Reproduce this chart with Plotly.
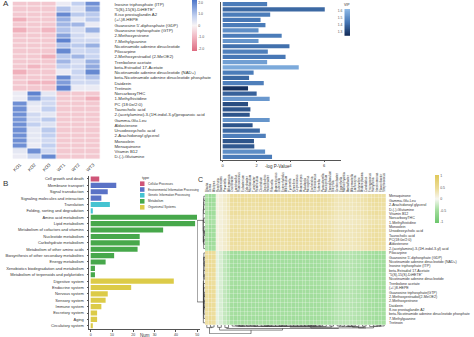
import numpy as np
import plotly.graph_objects as go

W, H = 474, 337
def fx(p): return p / W
def fy(p): return 1 - p / H

FONT = "Arial, Liberation Sans, sans-serif"
TXT = "#333333"

# ---------------- Panel A data ----------------
samples = ["KO1", "KO2", "KO3", "WT1", "WT2", "WT3"]
metabolites_A = [
    "Inosine triphosphate (ITP)", "\"5(S),15(S)-DiHETE\"", "8-iso prostaglandin A2", "(+/-)8-HEPE",
    "Guanosine 5'-diphosphate (GDP)", "Guanosine triphosphate (GTP)", "2-Methoxyestrone",
    "7-Methylguanine", "Nicotinamide adenine dinucleotide", "Pilocarpine",
    "2-Methoxyestradiol (2-MeOE2)", "Trenbolone acetate", "beta-Estradiol 17-Acetate",
    "Nicotinamide adenine dinucleotide (NAD+)", "beta-Nicotinamide adenine dinucleotide phosphate",
    "Daidzein", "Tretinoin", "NorcarboxyTHC", "1-Methylhistidine", "PC (18:0e/2:0)",
    "Taurocholic acid", "2-(acetylamino)-3-(1H-indol-3-yl)propanoic acid", "Gamma-Glu-Leu",
    "Aldosterone", "Ursodeoxycholic acid", "2-Arachidonoyl glycerol", "Monoolein",
    "Menaquinone", "Vitamin B12", "D-(-)-Glutamine",
]
zscore_A = [
    [-0.7, -0.7, -0.7, 0.2, 0.8, 1.8],
    [-0.7, -0.7, -0.7, 1.0, 0.4, 1.5],
    [-0.7, -0.7, -0.7, 1.9, 0.9, 0.9],
    [-1.1, -0.7, -0.7, 1.3, 0.3, 0.9],
    [-0.7, -0.7, -0.7, 1.2, 1.2, 0.2],
    [-1.1, -0.7, -1.0, 1.0, 0.5, 1.3],
    [-0.7, -0.7, -0.7, 1.5, 0.6, 0.3],
    [-0.7, -0.7, -0.7, 2.0, 0.6, 0.6],
    [-0.7, -0.7, -0.7, 1.0, 0.9, 1.3],
    [-0.7, -0.7, -0.7, 1.9, 0.6, 0.7],
    [-0.7, -0.7, -1.1, 0.9, 1.2, 0.7],
    [-0.7, -0.7, -0.7, 1.2, 0.5, 1.3],
    [-0.7, -1.0, -0.7, 0.8, 0.6, 1.4],
    [-1.1, -0.7, -0.7, 0.2, 0.7, 1.9],
    [-0.7, -0.7, -0.7, 1.9, 0.6, 1.0],
    [-0.7, -1.0, -1.0, 1.6, 0.6, 0.6],
    [-0.7, -0.7, -0.7, 2.0, 0.2, 0.2],
    [0.2, 2.0, 0.3, -0.7, -0.7, -0.7],
    [0.2, 1.6, 0.7, -0.7, -0.7, -1.1],
    [1.8, 0.3, 0.6, -0.7, -0.7, -0.7],
    [1.8, 0.2, 0.8, -0.7, -0.7, -0.7],
    [1.8, 0.6, 0.3, -0.7, -0.7, -0.7],
    [1.7, 0.5, 0.9, -0.7, -0.7, -0.7],
    [1.8, 0.8, 0.4, -0.7, -0.7, -0.7],
    [1.8, 0.3, 0.9, -0.7, -0.7, -0.7],
    [1.8, 0.3, 0.8, -0.7, -0.7, -0.7],
    [1.8, 0.3, 0.6, -0.7, -0.7, -0.7],
    [1.8, 0.2, 0.8, -0.7, -0.7, -0.7],
    [0.3, 1.8, 0.6, -0.7, -0.7, -0.7],
    [0.2, 0.7, 1.9, -0.7, -0.7, -0.7],
]
neglogp = [2.63, 6.04, 2.81, 2.24, 2.53, 2.12, 3.49, 2.12, 3.95, 2.67,
           3.72, 2.63, 4.50, 1.83, 1.56, 2.43, 1.50, 2.01, 2.78, 1.50,
           1.64, 1.60, 2.78, 1.77, 2.20, 2.55, 1.85, 1.87, 2.51, 2.92]
vip = [1.45, 1.40, 1.45, 1.44, 1.45, 1.50, 1.45, 1.52, 1.42, 1.46,
       1.44, 1.55, 1.58, 1.45, 1.40, 1.46, 1.26, 1.38, 1.53, 1.33,
       1.35, 1.35, 1.52, 1.35, 1.40, 1.46, 1.35, 1.36, 1.50, 1.45]
vip_ticks = [1.3, 1.4, 1.5, 1.6]

# ---------------- Panel B data ----------------
pathways = [
    "Cell growth and death", "Membrane transport", "Signal transduction",
    "Signaling molecules and interaction", "Translation", "Folding, sorting and degradation",
    "Amino acid metabolism", "Lipid metabolism", "Metabolism of cofactors and vitamins",
    "Nucleotide metabolism", "Carbohydrate metabolism", "Metabolism of other amino acids",
    "Biosynthesis of other secondary metabolites", "Energy metabolism",
    "Xenobiotics biodegradation and metabolism", "Metabolism of terpenoids and polyketides",
    "Digestive system", "Endocrine system", "Nervous system", "Sensory system",
    "Immune system", "Excretory system", "Aging", "Circulatory system",
]
pathway_num = [4, 12, 8, 5, 9, 1, 50, 49, 34, 23, 23, 22, 11, 7, 2, 2, 39, 19, 8, 7, 5, 3, 3, 1]
type_names = ["Cellular Processes", "Environmental Information Processing",
              "Genetic Information Processing", "Metabolism", "Organismal Systems"]
pathway_type = ([type_names[0]] + [type_names[1]] * 3 + [type_names[2]] * 2 +
                [type_names[3]] * 10 + [type_names[4]] * 8)
type_colors = ["#cf5578", "#5a72c6", "#45c3d1", "#47a84b", "#dccb48"]

# ---------------- Panel C data ----------------
taxa = ["Blautia", "Dorea", "Alistipes", "Roseburia", "Bacteroides", "Prevotella", "Akkermansia",
        "Oscillibacter", "Lactobacillus", "Ruminococcus", "Eubacterium", "Odoribacter",
        "Muribaculum", "Turicibacter", "Romboutsia", "Clostridium", "Desulfovibrio",
        "Helicobacter", "Rikenella", "Anaerotruncus", "Dubosiella", "Enterorhabdus",
        "Allobaculum", "Tyzzerella", "Kineothrix", "Coprococcus", "Anaerostipes", "Paludicola",
        "Monoglobus", "Escherichia", "Enterococcus", "Sutterella", "Parasutterella",
        "Mucispirillum", "Faecalibaculum", "Bilophila", "Gordonibacter", "Eggerthella",
        "Marvinbryantia", "Acetatifactor", "Alloprevotella", "Lachnospira", "Butyrivibrio",
        "Anaeroplasma", "Candidatus", "Frisingicoccus", "Harryflintia", "Intestinimonas",
        "Flavonifractor", "Streptococcus"]
metabolites_C = [
    "Menaquinone", "Gamma-Glu-Leu", "2-Arachidonoyl glycerol", "D-(-)-Glutamine", "Vitamin B12",
    "NorcarboxyTHC", "1-Methylhistidine", "Monoolein", "Ursodeoxycholic acid", "Taurocholic acid",
    "PC(18:0e/2:0)", "Aldosterone", "2-(acetylamino)-3-(1H-indol-3-yl) acid", "Pilocarpine",
    "Guanosine 5'-diphosphate (GDP)", "Nicotinamide adenine dinucleotide (NAD+)",
    "Inosine triphosphate (ITP)", "beta-Estradiol 17-Acetate", "\"5(S),15(S)-DiHETE\"",
    "Nicotinamide adenine dinucleotide", "Trenbolone acetate", "(+/-)8-HEPE",
    "Guanosine triphosphate(GTP)", "2-Methoxyestradiol(2-MeOE2)", "2-Methoxyestrone", "Daidzein",
    "8-iso prostaglandin A2", "beta-Nicotinamide adenine dinucleotide phosphate",
    "7-Methylguanine", "Tretinoin",
]
corr_profile_top = [-0.42, -0.55, -0.5, 0.1, 0.14, 0.2, 0.28, 0.42, 0.43, 0.42,
                    0.44, 0.42, 0.43, 0.41, 0.42, 0.44, 0.42, 0.43, 0.42, 0.44,
                    0.42, 0.41, 0.42, 0.43, 0.42, 0.44, 0.42, 0.43, 0.42, 0.41,
                    0.42, 0.43, 0.42, 0.40, 0.38, 0.36, 0.30, 0.29, 0.32, 0.30,
                    0.28, 0.30, 0.32, 0.35, 0.36, 0.40, 0.42, 0.43, 0.42, 0.41]
corr_profile_bottom = [0.42, 0.5, 0.45, -0.1, -0.18, -0.3, -0.38, -0.48, -0.5, -0.49,
                       -0.5, -0.48, -0.5, -0.49, -0.5, -0.48, -0.5, -0.49, -0.5, -0.48,
                       -0.5, -0.49, -0.5, -0.48, -0.5, -0.49, -0.5, -0.48, -0.5, -0.49,
                       -0.5, -0.48, -0.49, -0.47, -0.45, -0.44, -0.38, -0.37, -0.39, -0.36,
                       -0.37, -0.38, -0.4, -0.42, -0.44, -0.46, -0.48, -0.5, -0.49, -0.5]
corr_row_scale = [1.0, 1.05, 1.0, 0.95, 1.02, 0.9, 0.85, 0.95, 1.0, 0.98, 1.05, 1.0, 0.93,
                  1.0, 1.05, 1.0, 1.02, 1.05, 0.98, 1.0, 0.95, 1.05, 1.0, 1.02, 0.97, 1.0,
                  1.0, 0.95, 1.0, 0.92]
n_top_cluster = 13

M = np.array([np.array(corr_profile_top if i < n_top_cluster else corr_profile_bottom) * corr_row_scale[i]
              for i in range(len(metabolites_C))])
M = np.clip(M, -1, 1)


def ordered_dendro(X):
    clusters = [dict(members=[i], pos=float(i), h=0.0) for i in range(len(X))]
    segs = []
    while len(clusters) > 1:
        best = None
        for k in range(len(clusters) - 1):
            a, b = clusters[k], clusters[k + 1]
            d = np.mean([np.linalg.norm(X[i] - X[j]) for i in a['members'] for j in b['members']])
            if best is None or d < best[0]:
                best = (d, k)
        d, k = best
        a, b = clusters[k], clusters[k + 1]
        h = max(d, a['h'], b['h'])
        segs += [((a['pos'], a['h']), (a['pos'], h)), ((b['pos'], b['h']), (b['pos'], h)),
                 ((a['pos'], h), (b['pos'], h))]
        clusters[k:k + 2] = [dict(members=a['members'] + b['members'], pos=(a['pos'] + b['pos']) / 2, h=h)]
    return segs


def seg_xy(segs, swap=False):
    xs, ys = [], []
    for (p0, h0), (p1, h1) in segs:
        h0, h1 = np.sqrt(h0), np.sqrt(h1)
        if swap:
            xs += [h0, h1, None]; ys += [p0, p1, None]
        else:
            xs += [p0, p1, None]; ys += [h0, h1, None]
    return xs, ys

row_segs = ordered_dendro(M)
col_segs = ordered_dendro(M.T)

fig = go.Figure()

# ---- Panel A heatmap
cs_A = [[0, '#de6b80'], [0.27, '#f1b5c0'], [0.5, '#f8f4f5'], [0.68, '#c3d1f0'], [1, '#4d75c9']]
fig.add_trace(go.Heatmap(
    z=zscore_A, x=samples, y=metabolites_A, colorscale=cs_A, zmin=-2.2, zmax=2.2,
    xgap=0.7, ygap=0.7, xaxis='x', yaxis='y',
    colorbar=dict(x=fx(192), xanchor='left', y=fy(0), yanchor='top', len=50.5, lenmode='pixels',
                  thickness=5, thicknessmode='pixels', xpad=0, ypad=0, outlinewidth=0,
                  tickvals=[-2, -1, 0, 1, 2], ticktext=["-2.0", "-1.0", "0", "1.0", "2.0"],
                  ticks='', tickfont=dict(size=3.5, color='#555', family=FONT))))

# ---- Panel A bars
vip_lo, vip_hi = 1.243, 1.629
cs_vip = [[0, '#112a57'], [0.5, '#4677b5'], [1, '#8fbbe8']]
fig.add_trace(go.Bar(
    x=neglogp, y=metabolites_A, orientation='h', xaxis='x2', yaxis='y2',
    marker=dict(color=vip, colorscale=cs_vip, cmin=vip_lo, cmax=vip_hi, line=dict(width=0)),
    showlegend=False))
levels = np.linspace(vip_lo, vip_hi, 60)
fig.add_trace(go.Heatmap(z=[[v] for v in levels], y=levels, x=[0], colorscale=cs_vip,
                         zmin=vip_lo, zmax=vip_hi, showscale=False, xaxis='x3', yaxis='y3'))

# ---- Panel B bars
for tn, col in zip(type_names, type_colors):
    ys = [p for p, t in zip(pathways, pathway_type) if t == tn]
    xs = [v for v, t in zip(pathway_num, pathway_type) if t == tn]
    fig.add_trace(go.Bar(x=xs, y=ys, orientation='h', xaxis='x4', yaxis='y4',
                         marker=dict(color=col, line=dict(width=0)), showlegend=False, width=0.8))

# ---- Panel C heatmap
cs_C = [[0, '#6cc66c'], [0.28, '#a6dfa0'], [0.5, '#f7f7f2'], [0.72, '#ecdc98'], [1, '#e0c85a']]
fig.add_trace(go.Heatmap(
    z=M, x=taxa, y=metabolites_C, colorscale=cs_C, zmin=-1.05, zmax=1.05,
    xgap=0.25, ygap=0.25, xaxis='x5', yaxis='y5',
    colorbar=dict(x=fx(434.5), xanchor='left', y=fy(175), yanchor='top', len=48, lenmode='pixels',
                  thickness=4, thicknessmode='pixels', xpad=0, ypad=0, outlinewidth=0,
                  tickvals=[-1, -0.5, 0, 0.5, 1], ticktext=["-1", "-0.5", "0", "0.5", "1"],
                  ticks='', tickfont=dict(size=3.5, color='#555', family=FONT))))
rx, ry = seg_xy(row_segs, swap=True)
fig.add_trace(go.Scatter(x=rx, y=ry, mode='lines', line=dict(color='#333', width=0.6),
                         xaxis='x6', yaxis='y6', showlegend=False, hoverinfo='skip'))
cx, cy = seg_xy(col_segs)
fig.add_trace(go.Scatter(x=cx, y=cy, mode='lines', line=dict(color='#333', width=0.6),
                         xaxis='x7', yaxis='y7', showlegend=False, hoverinfo='skip'))
rmax = max(v for v in rx if v is not None)
cmax_ = max(v for v in cy if v is not None)

nC = len(metabolites_C)
tf = lambda s: dict(size=s, color=TXT, family=FONT)
hidden = dict(showgrid=False, zeroline=False, showticklabels=False, ticks='', showline=False)

fig.update_layout(
    width=W, height=H, margin=dict(l=0, r=0, t=0, b=0),
    paper_bgcolor='white', plot_bgcolor='white', showlegend=False, bargap=0.2,
    font=dict(family=FONT, color=TXT),
    xaxis=dict(domain=[fx(12.5), fx(100.5)], anchor='y', tickangle=-45, tickfont=tf(4.5),
               showgrid=False, zeroline=False, ticks='', ticklabelstandoff=1),
    yaxis=dict(domain=[fy(159.5), fy(1.5)], anchor='x', autorange='reversed', side='right',
               tickfont=tf(4.3), showgrid=False, zeroline=False, ticks='', ticklabelstandoff=13,
               tickmode='linear', dtick=1),
    xaxis2=dict(domain=[fx(221), fx(341)], anchor='y2', range=[-0.1, 7.0], tickvals=[0, 2, 4, 6],
                showline=True, linecolor='#555', linewidth=0.8, ticks='outside', ticklen=2,
                tickcolor='#555', tickwidth=0.6, tickfont=tf(4), showgrid=False, zeroline=False),
    yaxis2=dict(domain=[fy(159.5), fy(1.5)], anchor='x2', autorange='reversed', showticklabels=False,
                showline=True, linecolor='#555', linewidth=0.8, ticks='', showgrid=False),
    xaxis3=dict(domain=[fx(344.3), fx(350)], anchor='y3', **hidden),
    yaxis3=dict(domain=[fy(36), fy(9)], anchor='x3', range=[vip_lo, vip_hi], tickvals=vip_ticks,
                ticktext=[f"{v:.1f}" for v in vip_ticks], side='left',
                tickfont=dict(size=3.3, color='#555', family=FONT),
                ticks='', showgrid=False, zeroline=False, ticklabelstandoff=1),
    xaxis4=dict(domain=[fx(89), fx(200)], anchor='y4', range=[-0.8, 51.3], tickvals=[0, 10, 20, 30, 40, 50],
                showline=True, linecolor='#555', linewidth=0.8, ticks='outside', ticklen=2,
                tickcolor='#555', tickwidth=0.6, tickfont=tf(3.5), showgrid=False, zeroline=False),
    yaxis4=dict(domain=[fy(329), fy(175.8)], anchor='x4', autorange='reversed',
                categoryorder='array', categoryarray=pathways, tickmode='linear', dtick=1,
                showline=True, linecolor='#555', linewidth=0.8, ticks='outside', ticklen=1.5,
                tickcolor='#555', tickwidth=0.5, tickfont=tf(4), showgrid=False, ticklabelstandoff=2),
    xaxis5=dict(domain=[fx(205), fx(386)], anchor='y5', side='top', tickangle=-90, tickfont=tf(3),
                tickmode='linear', dtick=1,
                showgrid=False, zeroline=False, ticks='', ticklabelstandoff=1),
    yaxis5=dict(domain=[fy(325), fy(194)], anchor='x5', autorange='reversed', side='right',
                tickmode='linear', dtick=1,
                tickfont=tf(3.6), showgrid=False, zeroline=False, ticks='', ticklabelstandoff=2),
    xaxis6=dict(domain=[fx(197), fx(205)], anchor='y6', range=[rmax * 1.03, 0], **hidden),
    yaxis6=dict(domain=[fy(325), fy(194)], anchor='x6', range=[nC - 0.5, -0.5], **hidden),
    xaxis7=dict(domain=[fx(205), fx(386)], anchor='y7', range=[-0.5, len(taxa) - 0.5], **hidden),
    yaxis7=dict(domain=[fy(334), fy(325)], anchor='x7', range=[cmax_ * 1.03, 0], **hidden),
)

ann = []
shapes = []
def note(x, y, text, size, xanchor='left', yanchor='middle', color=TXT):
    ann.append(dict(x=fx(x), y=fy(y), xref='paper', yref='paper', text=text, showarrow=False,
                    xanchor=xanchor, yanchor=yanchor, font=dict(size=size, color=color, family=FONT)))

note(1, 4, "A", 8)
note(1, 183, "B", 8)
note(196, 179, "C", 7)
note(277, 166.5, "-log P-Value", 4.5, xanchor='center')
note(347, 5, "VIP", 3.5, xanchor='center')
note(144.5, 335, "Num", 4.5, xanchor='center')
note(139.5, 177.5, "type", 3.8)
leg_y = [183.7, 189.5, 195.3, 201.3, 207.3]
for tn, col, yy in zip(type_names, type_colors, leg_y):
    shapes.append(dict(type='rect', xref='paper', yref='paper', x0=fx(140), x1=fx(144.5),
                       y0=fy(yy + 2.3), y1=fy(yy - 2.3), fillcolor=col, line=dict(width=0)))
    note(146, yy, tn, 3)

fig.update_layout(annotations=ann, shapes=shapes)
fig.write_html("out.html")
